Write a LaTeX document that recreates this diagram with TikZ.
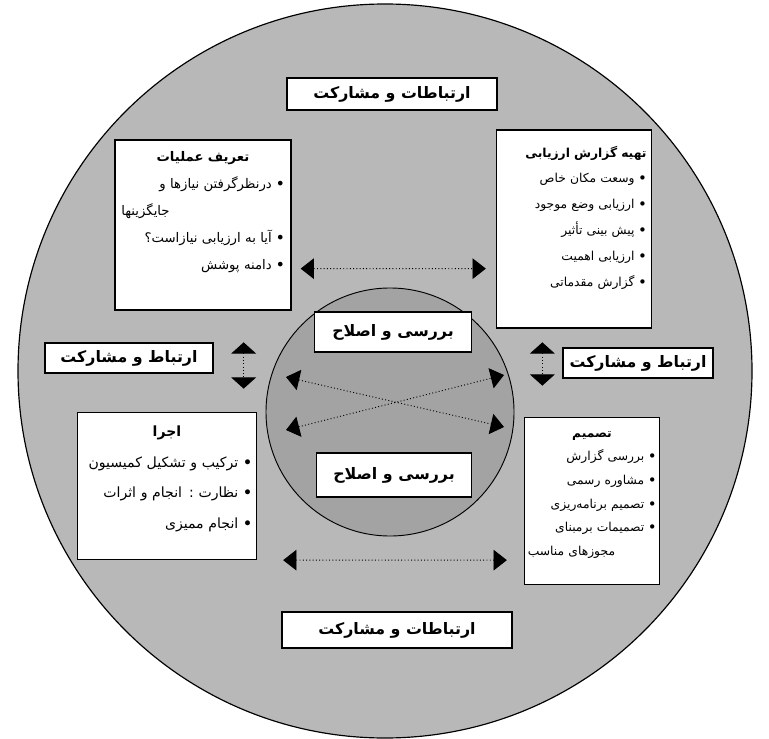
\documentclass[tikz,border=0pt]{standalone}
\usepackage{fontspec}
\newfontfamily\farsi[Script=Arabic]{DejaVu Sans}
\TeXXeTstate=1
\newcommand{\fa}[1]{\beginR #1\endR}
\newcommand{\dotb}{{\bfseries•}}
\newcommand{\toleft}{\hskip 0pt plus 1filll\null}
\usetikzlibrary{arrows.meta}

\begin{document}
\begin{tikzpicture}[x=0.03cm, y=-0.03cm,
  panel/.style={draw, line width=1.1pt, fill=white, inner sep=0pt},
  linkbox/.style={panel, font=\farsi\bfseries\fontsize{13.5}{15}\selectfont},
  listtext/.style 2 args={anchor=north, align=right, inner sep=0pt,
    font=\farsi\fontsize{#1}{#2}\selectfont},
  swap/.style={dotted, thick,
    {Triangle[length=0.4cm,width=0.62cm]}-{Triangle[length=0.4cm,width=0.62cm]}},
  updown/.style={dotted, thick,
    {Triangle[length=0.34cm,width=0.75cm]}-{Triangle[length=0.34cm,width=0.75cm]}}]
  \useasboundingbox (0,0) rectangle (769,738);
  % Outer ring
  \draw[line width=1pt, fill=black!28] (385,371) circle[radius=367];
  \node[draw, line width=0.8pt, circle, fill=black!36, minimum size=7.44cm] (core) at (390,412) {};
  % Link boxes
  \node[linkbox, minimum width=6.3cm, minimum height=0.96cm] (toplink) at (392,94) {\fa{ارتباطات و مشارکت}};
  \node[linkbox, minimum width=6.9cm, minimum height=1.08cm] (botlink) at (397,630) {\fa{ارتباطات و مشارکت}};
  \node[linkbox, minimum width=5.04cm, minimum height=0.9cm] (leftlink) at (129,358) {\fa{ارتباط و مشارکت}};
  \node[linkbox, minimum width=4.5cm, minimum height=0.9cm] (rightlink) at (638,363) {\fa{ارتباط و مشارکت}};
  \node[linkbox, minimum width=4.71cm, minimum height=1.2cm] (revtop) at (393,332) {\fa{بررسی و اصلاح}};
  \node[linkbox, minimum width=4.65cm, minimum height=1.32cm] (revbot) at (394,475) {\fa{بررسی و اصلاح}};
  % Stage boxes
  \node[panel, minimum width=5.28cm, minimum height=5.1cm] (define) at (203,225) {};
  \node[panel, minimum width=4.65cm, minimum height=5.94cm] (report) at (574,229) {};
  \node[panel, minimum width=5.37cm, minimum height=4.41cm] (apply) at (167,486) {};
  \node[panel, minimum width=4.05cm, minimum height=5.01cm] (decide) at (592,501) {};
  % Stage texts
  \node[listtext={11.3}{23}, text width=4.9cm] (definetxt) at ([yshift=-10]define.north) {%
    {\centering\bfseries\fa{تعریف عملیات}\par}
    \fa{\dotb{} درنظرگرفتن نیازها و}\\ \fa{جایگزینها}\toleft\\
    \fa{\dotb{} آیا به ارزیابی نیازاست؟}\\ \fa{\dotb{} دامنه پوشش}};
  \node[listtext={10.5}{22}, text width=4.35cm] (reporttxt) at ([yshift=-14]report.north) {%
    \bfseries\fa{تهیه گزارش ارزیابی}\mdseries\\
    \fa{\dotb{} وسعت مکان خاص}\\ \fa{\dotb{} ارزیابی وضع موجود}\\ \fa{\dotb{} پیش بینی تأثیر}\\
    \fa{\dotb{} ارزیابی اهمیت}\\ \fa{\dotb{} گزارش مقدماتی}};
  \node[listtext={12}{26}, text width=5.1cm] (applytxt) at ([yshift=-12]apply.north) {%
    {\centering\bfseries\fa{اجرا}\par}
    \fa{\dotb{} ترکیب و تشکیل کمیسیون}\\ \fa{\dotb{} نظارت : انجام و اثرات}\\ \fa{\dotb{} انجام ممیزی}};
  \node[listtext={10.5}{20.2}, text width=3.85cm] (decidetxt) at ([yshift=-12]decide.north) {%
    {\centering\bfseries\fa{تصمیم}\par}
    \fa{\dotb{} بررسی گزارش}\\ \fa{\dotb{} مشاوره رسمی}\\ \fa{\dotb{} تصمیم برنامه‌ریزی}\\
    \fa{\dotb{} تصمیمات برمبنای}\\ \fa{مجوزهای مناسب}\toleft};
  % Two-way flows
  \draw[swap] ([shift={(9,-42)}]define.south east) -- ([shift={(-10,-60)}]report.south west);
  \draw[swap] ([shift={(26,0)}]apply.south east) -- ([shift={(-17,-25)}]decide.south west);
  \draw[swap] ([shift={(-104,-35)}]core.center) -- ([shift={(114,15)}]core.center);
  \draw[swap] ([shift={(-104,18)}]core.center) -- ([shift={(114,-37)}]core.center);
  \draw[updown] ([shift={(30,0)}]leftlink.north east) -- ([shift={(30,15)}]leftlink.south east);
  \draw[updown] ([shift={(-20,-5)}]rightlink.north west) -- ([shift={(-20,7)}]rightlink.south west);
\end{tikzpicture}
\end{document}
